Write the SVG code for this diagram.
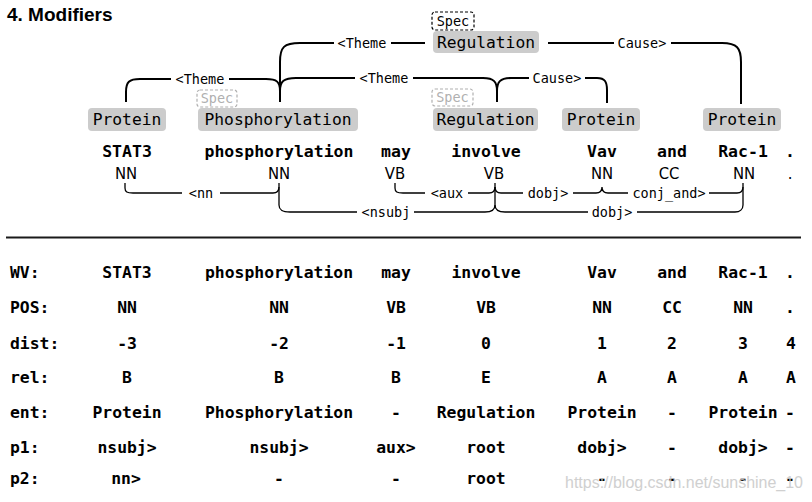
<svg xmlns="http://www.w3.org/2000/svg" width="812" height="502" viewBox="0 0 812 502">
<style>
.title{font-family:"Liberation Sans",Arial,sans-serif;font-weight:bold;font-size:19px;fill:#000}
.ent rect{fill:#cccccc;stroke:none}
.ent text{font-family:"DejaVu Sans Mono",monospace;font-size:16.3px;fill:#000;text-anchor:middle}
.spec rect{fill:none;stroke:#000;stroke-width:1.2;stroke-dasharray:3,2}
.spec text{font-family:"DejaVu Sans Mono",monospace;font-size:13.5px;fill:#000;text-anchor:middle}
.spec.faint rect{stroke:#b0b0b0}
.spec.faint text{fill:#b0b0b0}
.word{font-family:"DejaVu Sans Mono",monospace;font-weight:bold;font-size:16.5px;fill:#000;text-anchor:middle}
.pos{font-family:"DejaVu Sans Condensed","DejaVu Sans",sans-serif;font-stretch:condensed;font-size:16.5px;fill:#000;text-anchor:middle}
.arc{fill:none;stroke:#000;stroke-width:2}
.dep{fill:none;stroke:#000;stroke-width:1.3}
.lbl{font-family:"DejaVu Sans Mono",monospace;font-size:13.5px;fill:#000;text-anchor:middle}
.tb{font-family:"DejaVu Sans Mono",monospace;font-weight:bold;font-size:16.4px;fill:#000;text-anchor:middle}
.tbl{font-family:"DejaVu Sans Mono",monospace;font-weight:bold;font-size:16.4px;fill:#000}
.wm{font-family:"Liberation Sans",Arial,sans-serif;font-size:17px;fill:#c8c8c8}
</style>

<text class="title" x="7" y="21">4. Modifiers</text>

<!-- connectors -->
<g id="connectors">
  <!-- event arcs -->
  <path class="arc" d="M126,102 L126,92 C126,82 129,79 140,79 L171,79 M229,79 L266,79 C277,79 280,82 280,91"/>
  <text class="lbl" x="200" y="83.5">&lt;Theme</text>
  <path class="arc" d="M280,102 L280,62 C280,47 284,43 300,43 L334,43 M391,43 L425,43"/>
  <text class="lbl" x="362" y="47.5">&lt;Theme</text>
  <path class="arc" d="M548,43 L614,43 M671,43 L722,43 C737,43 741,48 741,62 L741,104"/>
  <text class="lbl" x="642" y="47.5">Cause&gt;</text>
  <path class="arc" d="M280,91 C280,81 284,78 296,78 L355,78 M413,78 L483,78 C494,78 497,82 497,91 L497,102"/>
  <text class="lbl" x="384" y="82.5">&lt;Theme</text>
  <path class="arc" d="M497,91 C497,82 500,78 511,78 L529,78 M585,78 L597,78 C605,78 607,82 607,90 L607,103"/>
  <text class="lbl" x="557" y="82.5">Cause&gt;</text>

  <!-- dependency arcs -->
  <path class="dep" d="M125,183 L125,188 C125,192 127,193 133,193 L182,193 M220,193 L273,193 C277,193 279,191 279,187"/>
  <text class="lbl" x="201" y="197.5">&lt;nn</text>
  <path class="dep" d="M279,183 L279,205 C279,210 282,212 290,212 L357,212 M414,212 L485,212 C492,212 495,209 495,205 L495,183"/>
  <text class="lbl" x="386" y="216.5">&lt;nsubj</text>
  <path class="dep" d="M395,183 L395,188 C395,192 397,193 403,193 L425,193 M468,193 L489,193 C493,193 495,191 495,187"/>
  <text class="lbl" x="447" y="197.5">&lt;aux</text>
  <path class="dep" d="M495,187 C495,191 497,193 501,193 L523,193 M573,193 L596,193 C600,193 602,191 602,187 C602,191 604,193 608,193 L628,193 M709,193 L737,193 C741,193 743,191 743,187"/>
  <text class="lbl" x="548" y="197.5">dobj&gt;</text>
  <text class="lbl" x="669" y="197.5">conj_and&gt;</text>
  <path class="dep" d="M495,205 C495,210 498,212 505,212 L588,212 M637,212 L735,212 C740,212 743,209 743,205 L743,183"/>
  <text class="lbl" x="612" y="216.5">dobj&gt;</text>
</g>

<!-- entity nodes -->
<g id="ent-protein1" class="ent"><rect x="88" y="108" width="78" height="23" rx="4"/><text x="127" y="125">Protein</text></g>
<g id="ent-phosphorylation" class="ent"><rect x="198" y="108" width="160" height="23" rx="4"/><text x="278" y="125">Phosphorylation</text></g>
<g id="spec-phos" class="spec faint"><rect x="197" y="90" width="40" height="17" rx="3"/><text x="217" y="103">Spec</text></g>
<g id="ent-regulation-lower" class="ent"><rect x="433" y="108" width="105" height="23" rx="4"/><text x="485.5" y="125">Regulation</text></g>
<g id="spec-reg-lower" class="spec faint"><rect x="432" y="89" width="41" height="17" rx="3"/><text x="452.5" y="102">Spec</text></g>
<g id="ent-protein2" class="ent"><rect x="562" y="108" width="78" height="23" rx="4"/><text x="601" y="125">Protein</text></g>
<g id="ent-protein3" class="ent"><rect x="703" y="108" width="78" height="23" rx="4"/><text x="742" y="125">Protein</text></g>
<g id="ent-regulation-upper" class="ent"><rect x="433" y="31" width="106" height="22" rx="4"/><text x="486" y="48">Regulation</text></g>
<g id="spec-reg-upper" class="spec"><rect x="432" y="12" width="42" height="18" rx="3"/><text x="453" y="26">Spec</text></g>

<!-- tokens -->
<g id="tok-stat3"><text class="word" x="127" y="157">STAT3</text><text class="pos" x="126" y="179">NN</text></g>
<g id="tok-phosphorylation"><text class="word" x="279" y="157">phosphorylation</text><text class="pos" x="279" y="179">NN</text></g>
<g id="tok-may"><text class="word" x="396" y="157">may</text><text class="pos" x="395" y="179">VB</text></g>
<g id="tok-involve"><text class="word" x="486" y="157">involve</text><text class="pos" x="494" y="179">VB</text></g>
<g id="tok-vav"><text class="word" x="602" y="157">Vav</text><text class="pos" x="602" y="179">NN</text></g>
<g id="tok-and"><text class="word" x="672" y="157">and</text><text class="pos" x="669" y="179">CC</text></g>
<g id="tok-rac1"><text class="word" x="743" y="157">Rac-1</text><text class="pos" x="744" y="179">NN</text></g>
<g id="tok-period"><text class="word" x="790" y="157">.</text><text class="pos" x="790" y="179">.</text></g>

<line x1="6" y1="237.5" x2="801" y2="237.5" stroke="#1a1a1a" stroke-width="2"/>

<!-- table -->
<g id="table">
  <text class="tbl" x="10" y="278">WV:</text>
  <text class="tbl" x="10" y="313">POS:</text>
  <text class="tbl" x="10" y="349">dist:</text>
  <text class="tbl" x="10" y="383">rel:</text>
  <text class="tbl" x="10" y="418">ent:</text>
  <text class="tbl" x="10" y="453">p1:</text>
  <text class="tbl" x="10" y="484">p2:</text>

  <text class="tb" x="127" y="278">STAT3</text>
  <text class="tb" x="127" y="313">NN</text>
  <text class="tb" x="127" y="349">-3</text>
  <text class="tb" x="127" y="383">B</text>
  <text class="tb" x="127" y="418">Protein</text>
  <text class="tb" x="127" y="453">nsubj&gt;</text>
  <text class="tb" x="126" y="484">nn&gt;</text>

  <text class="tb" x="279" y="278">phosphorylation</text>
  <text class="tb" x="279" y="313">NN</text>
  <text class="tb" x="279" y="349">-2</text>
  <text class="tb" x="279" y="383">B</text>
  <text class="tb" x="279" y="418">Phosphorylation</text>
  <text class="tb" x="279" y="453">nsubj&gt;</text>
  <text class="tb" x="279" y="484">-</text>

  <text class="tb" x="396" y="278">may</text>
  <text class="tb" x="396" y="313">VB</text>
  <text class="tb" x="396" y="349">-1</text>
  <text class="tb" x="396" y="383">B</text>
  <text class="tb" x="396" y="418">-</text>
  <text class="tb" x="396" y="453">aux&gt;</text>
  <text class="tb" x="396" y="484">-</text>

  <text class="tb" x="486" y="278">involve</text>
  <text class="tb" x="486" y="313">VB</text>
  <text class="tb" x="486" y="349">0</text>
  <text class="tb" x="486" y="383">E</text>
  <text class="tb" x="486" y="418">Regulation</text>
  <text class="tb" x="486" y="453">root</text>
  <text class="tb" x="486" y="484">root</text>

  <text class="tb" x="602" y="278">Vav</text>
  <text class="tb" x="602" y="313">NN</text>
  <text class="tb" x="602" y="349">1</text>
  <text class="tb" x="602" y="383">A</text>
  <text class="tb" x="602" y="418">Protein</text>
  <text class="tb" x="602" y="453">dobj&gt;</text>
  <text class="tb" x="602" y="484">-</text>

  <text class="tb" x="672" y="278">and</text>
  <text class="tb" x="672" y="313">CC</text>
  <text class="tb" x="672" y="349">2</text>
  <text class="tb" x="672" y="383">A</text>
  <text class="tb" x="672" y="418">-</text>
  <text class="tb" x="672" y="453">-</text>
  <text class="tb" x="672" y="484">-</text>

  <text class="tb" x="743" y="278">Rac-1</text>
  <text class="tb" x="743" y="313">NN</text>
  <text class="tb" x="743" y="349">3</text>
  <text class="tb" x="743" y="383">A</text>
  <text class="tb" x="743" y="418">Protein</text>
  <text class="tb" x="743" y="453">dobj&gt;</text>
  <text class="tb" x="743" y="484">-</text>

  <text class="tb" x="790" y="278">.</text>
  <text class="tb" x="790" y="313">.</text>
  <text class="tb" x="791" y="349">4</text>
  <text class="tb" x="791" y="383">A</text>
  <text class="tb" x="790" y="418">-</text>
  <text class="tb" x="790" y="453">-</text>
  <text class="tb" x="790" y="484">-</text>
</g>

<text class="wm" x="565" y="488" textLength="238" lengthAdjust="spacingAndGlyphs" opacity="0.85">https://blog.csdn.net/sunshine_10</text>
</svg>
